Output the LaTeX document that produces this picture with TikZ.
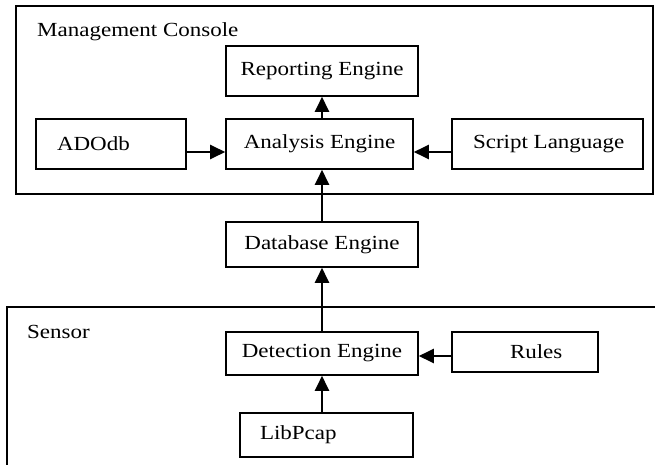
\documentclass[tikz,border=0pt]{standalone}
\usepackage{fontspec}
\setmainfont{Liberation Serif}[FakeStretch=1.15]
\usetikzlibrary{arrows.meta}
\tikzset{
  txt/.style={font=\fontsize{20}{22}\selectfont},
  box/.style={draw, line width=1.6pt, inner sep=0pt, txt},
  arr/.style={line width=2.4pt, -{Triangle[length=15pt,width=14pt]}},
  title/.style={anchor=base west, inner sep=0pt, txt}
}
\newcommand{\lefttext}[3]{\makebox[#1][l]{\hspace*{#2}#3}}
\begin{document}
\begin{tikzpicture}[x=1pt,y=-1pt]
\useasboundingbox (0,0) rectangle (655,465);
\clip (0,0) rectangle (655,465);
% Management console container
\node[draw, line width=1.6pt, anchor=north west, minimum width=637pt, minimum height=188pt, inner sep=0pt] (mc) at (15,5) {};
\node[title] (mctext) at (37,37) {Management Console};
% Sensor container (extends beyond the picture)
\node[draw, line width=1.6pt, anchor=north west, minimum width=680pt, minimum height=200pt, inner sep=0pt] (sensor) at (6,306) {};
\node[title] (sensortext) at (27,338) {Sensor};
% boxes
\node[box, minimum width=192pt, minimum height=50pt] (rep) at (322,71) {Reporting Engine};
\node[box, minimum width=187pt, minimum height=50pt] (ana) at (319.5,144) {Analysis Engine};
\node[box, minimum width=150pt, minimum height=50pt] (ado) at (111,144) {\lefttext{150pt}{21pt}{ADOdb}};
\node[box, minimum width=191pt, minimum height=50pt] (script) at (547.5,144) {\lefttext{191pt}{21pt}{Script Language}};
\node[box, minimum width=192pt, minimum height=45pt] (db) at (322,244.5) {Database Engine};
\node[box, minimum width=192pt, minimum height=43pt] (det) at (322,353.5) {Detection Engine};
\node[box, minimum width=146pt, minimum height=40pt] (rules) at (525,352) {\lefttext{146pt}{58pt}{Rules}};
\node[box, minimum width=173pt, minimum height=44pt] (lib) at (326.5,435) {\lefttext{173pt}{20pt}{LibPcap}};
% connectors
\draw[arr] (rep.south |- ana.north) -- (rep.south);
\draw[arr] (db.north) -- (db.north |- ana.south);
\draw[arr] (det.north) -- (db.south);
\draw[arr] (det.south |- lib.north) -- (det.south);
\draw[arr] ([yshift=-8pt]ado.east) -- ([yshift=-8pt]ado.east -| ana.west);
\draw[arr] ([yshift=-8pt]script.west) -- ([yshift=-8pt]script.west -| ana.east);
\draw[arr] ([yshift=-4pt]rules.west) -- ([yshift=-4pt]rules.west -| det.east);
\end{tikzpicture}
\end{document}
